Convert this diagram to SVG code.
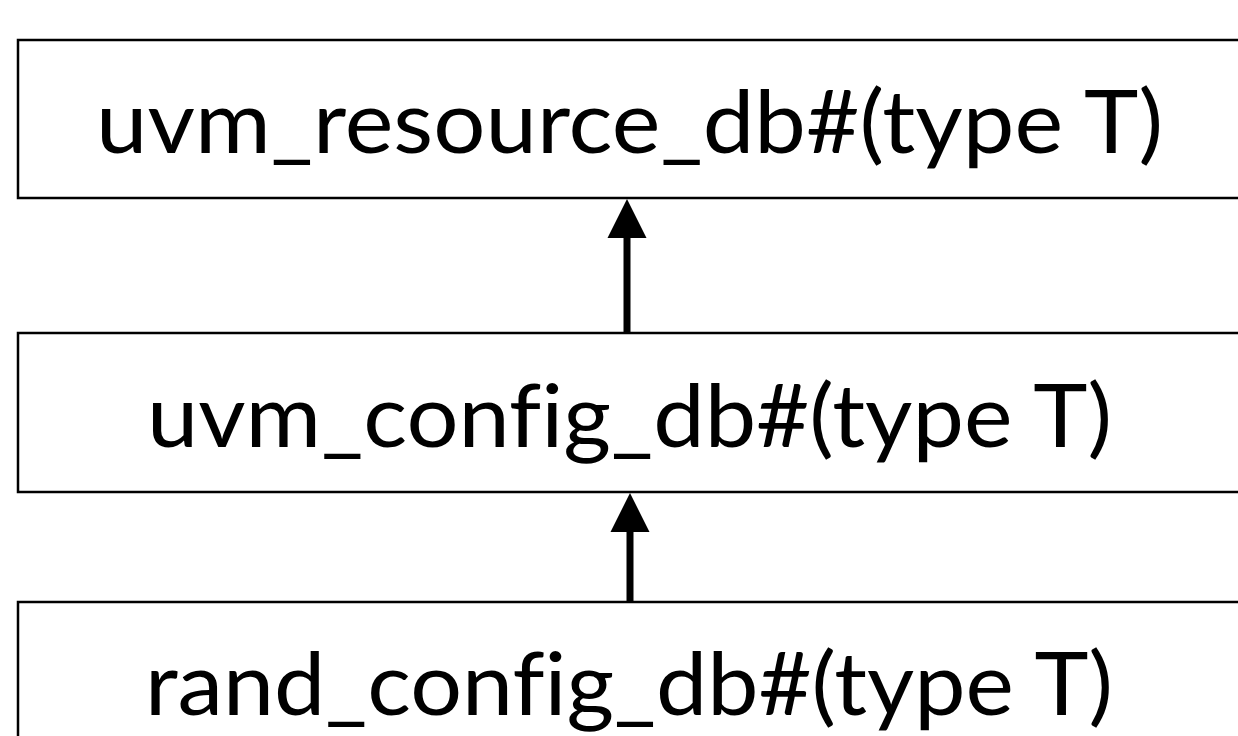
<svg xmlns="http://www.w3.org/2000/svg" width="1238" height="736" viewBox="0 0 1238 736">
<style>
.box{fill:#fff;stroke:#000;stroke-width:2.5}
.lbl{font-family:Lato,"Open Sans","Liberation Sans",sans-serif;font-size:88px;fill:#000;text-anchor:middle;font-variant-ligatures:none;font-feature-settings:"liga" 0}
.shaft{stroke:#000;stroke-width:7;fill:none}
.head{fill:#000}
</style>
<rect width="1238" height="736" fill="#fff"/>
<g id="node-resource">
<rect class="box" x="18" y="40" width="1240" height="158"/>
<text class="lbl" x="629.5" y="153" textLength="1067" lengthAdjust="spacingAndGlyphs">uvm_resource_db#(type T)</text>
</g>
<g id="node-config">
<rect class="box" x="18" y="333" width="1240" height="159"/>
<text class="lbl" x="629.5" y="447" textLength="965" lengthAdjust="spacingAndGlyphs">uvm_config_db#(type T)</text>
</g>
<g id="node-rand">
<rect class="box" x="18" y="602" width="1240" height="160"/>
<text class="lbl" x="629" y="715" textLength="968" lengthAdjust="spacingAndGlyphs">rand_config_db#(type T)</text>
</g>
<g id="connectors">
<line class="shaft" x1="627" y1="333" x2="627" y2="236"/>
<polygon class="head" points="627,199 646.5,238 607.5,238"/>
<line class="shaft" x1="630" y1="602" x2="630" y2="530"/>
<polygon class="head" points="630,493 649.5,532 610.5,532"/>
</g>
</svg>
